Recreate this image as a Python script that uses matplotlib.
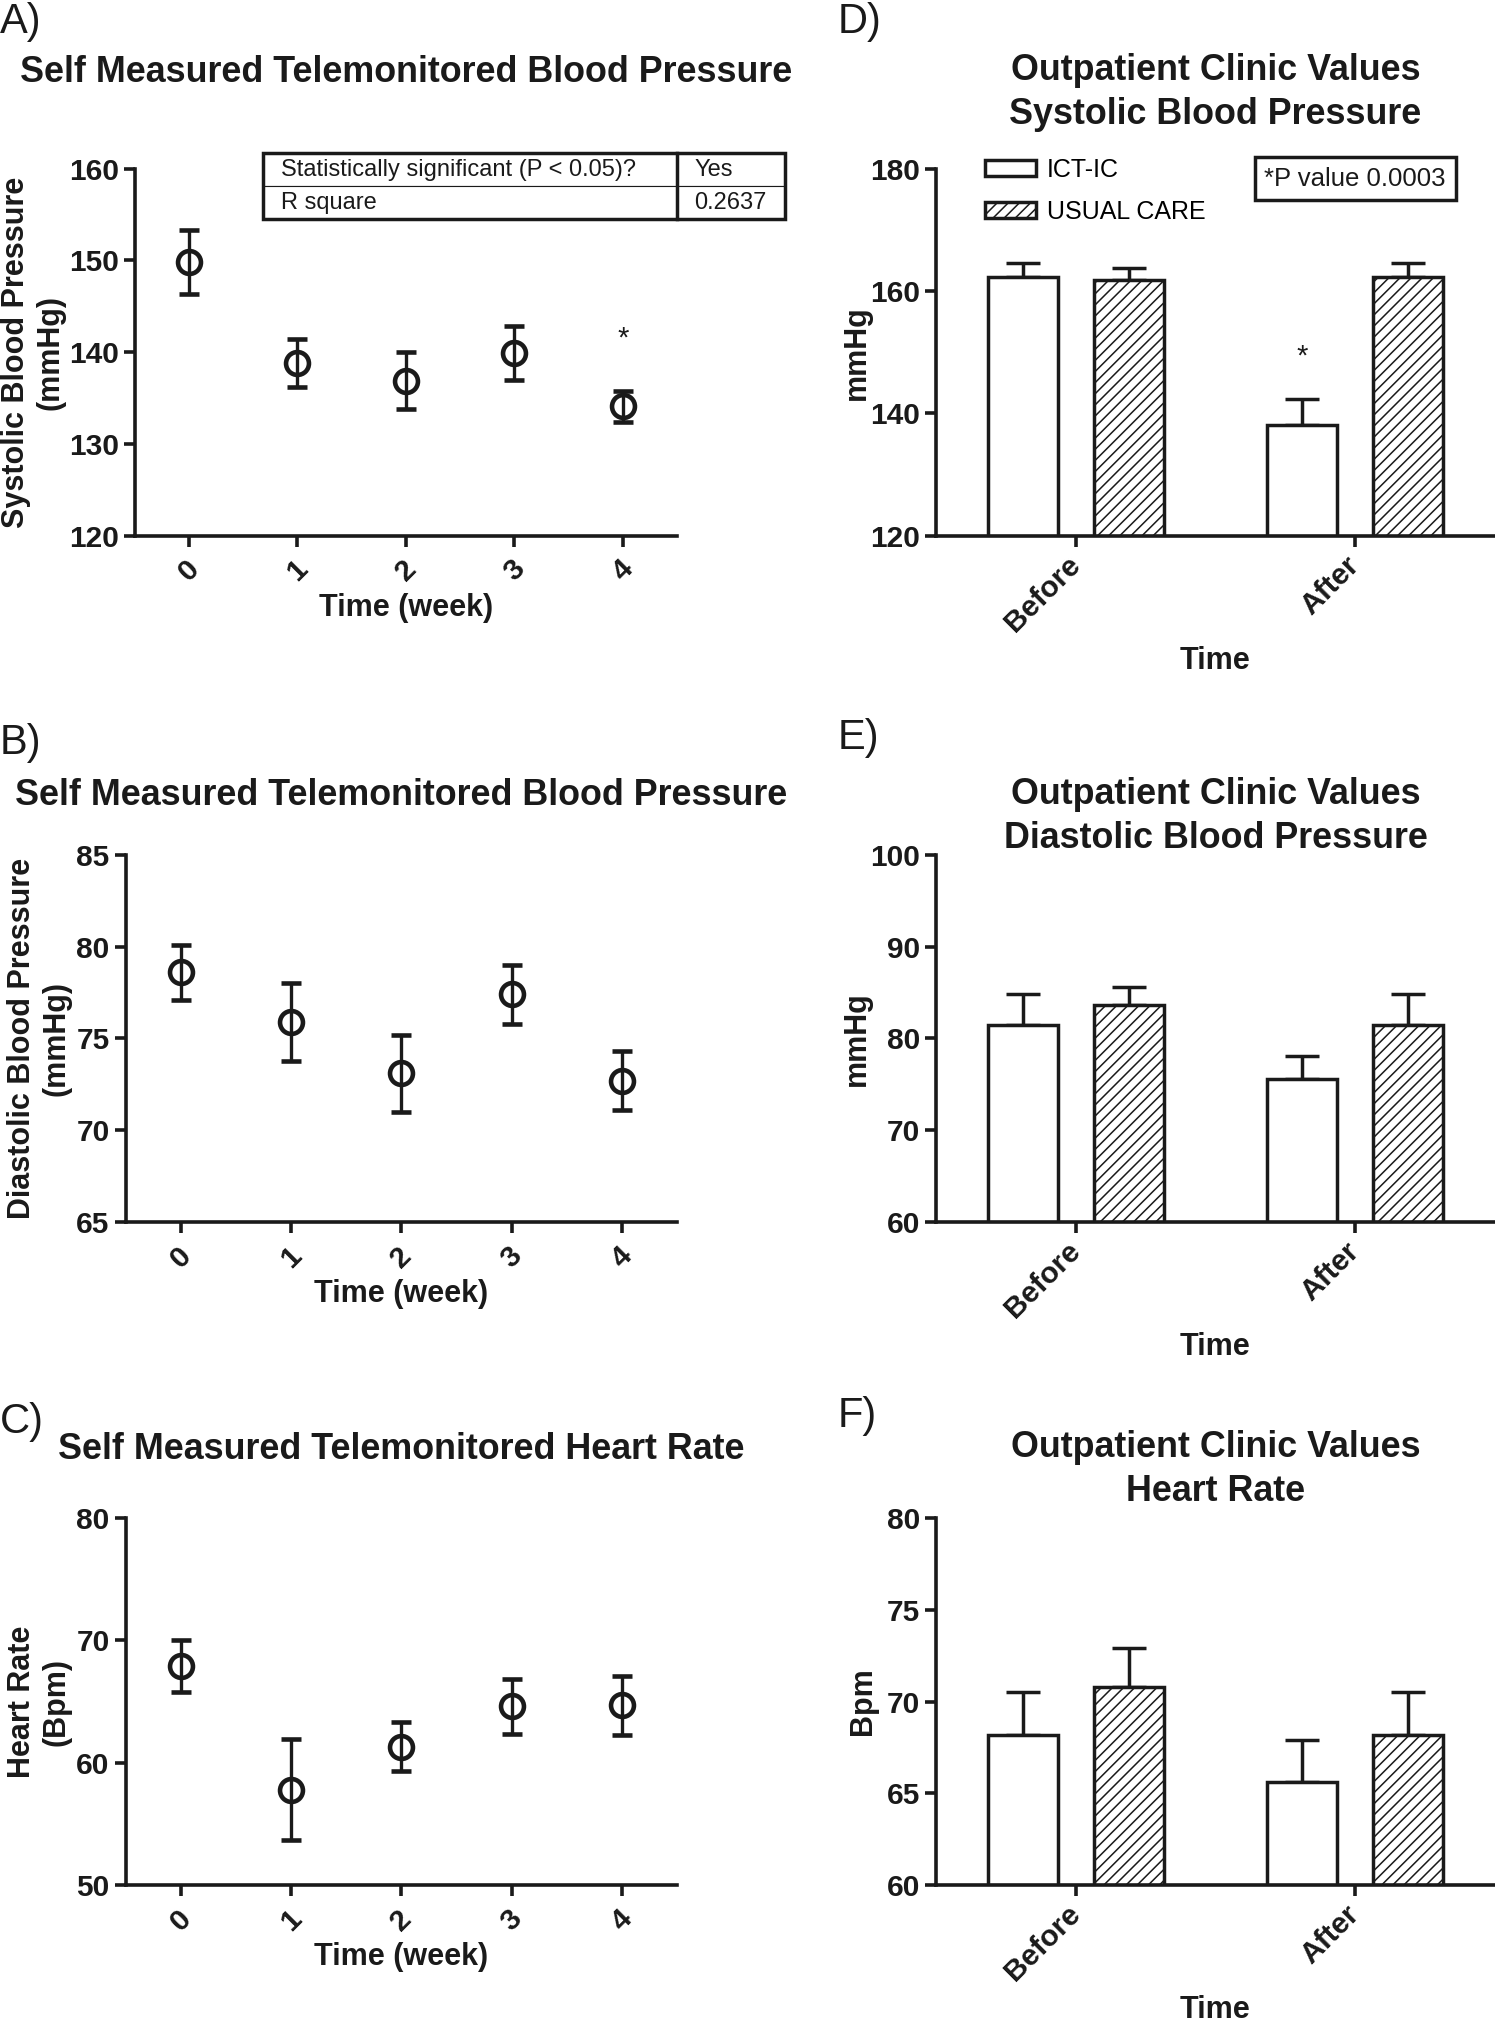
import matplotlib.pyplot as plt
from matplotlib.patches import Rectangle
import numpy as np

plt.rcParams["font.family"] = ["Liberation Sans", "DejaVu Sans"]
plt.rcParams["hatch.linewidth"] = 1.1

INK = "#1a1a1a"
LW = 2.6
TICK_FS = 21.5
LABEL_FS = 22
TITLE_FS = 25.8

# self measured data (mean, error) per week
weeks = [0, 1, 2, 3, 4]
week_labels = ["0", "1", "2", "3", "4"]
sys_mean = [149.8, 138.8, 136.9, 139.9, 134.1]
sys_err = [3.5, 2.65, 3.1, 2.95, 1.7]
dia_mean = [78.6, 75.9, 73.1, 77.4, 72.7]
dia_err = [1.5, 2.15, 2.1, 1.6, 1.6]
hr_mean = [67.9, 57.8, 61.3, 64.6, 64.7]
hr_err = [2.1, 4.15, 2.0, 2.25, 2.4]

# outpatient clinic values
times = ["Before", "After"]
clinic_sys_ict = [162.3, 138.1]
clinic_sys_ict_err = [2.2, 4.3]
clinic_sys_uc = [161.8, 162.3]
clinic_sys_uc_err = [1.9, 2.2]
clinic_dia_ict = [81.5, 75.6]
clinic_dia_ict_err = [3.3, 2.5]
clinic_dia_uc = [83.7, 81.5]
clinic_dia_uc_err = [1.9, 3.3]
clinic_hr_ict = [68.2, 65.6]
clinic_hr_ict_err = [2.3, 2.3]
clinic_hr_uc = [70.8, 68.2]
clinic_hr_uc_err = [2.1, 2.3]

table_rows = [["Statistically significant (P < 0.05)?", "Yes"],
              ["R square", "0.2637"]]

fig = plt.figure(figsize=(14.95, 20.19), dpi=100)

W, H = 1166.0, 1568.0


def place(left, right, top, bottom):
    return fig.add_axes([left / W, 1 - bottom / H, (right - left) / W, (bottom - top) / H])


def style_axes(ax, ylim, yticks, xticks, xticklabels, xlim, centered):
    ax.set_xlim(xlim)
    ax.set_ylim(ylim)
    ax.set_yticks(yticks)
    ax.set_yticklabels([str(t) for t in yticks], fontweight="bold", fontsize=TICK_FS)
    ax.set_xticks(xticks)
    if centered:
        # single digits sit centred below their tick
        ax.set_xticklabels(xticklabels, rotation=45, ha="center", va="top",
                           fontweight="bold", fontsize=TICK_FS)
    else:
        ax.set_xticklabels(xticklabels, rotation=45, ha="right", va="center",
                           rotation_mode="anchor", fontweight="bold", fontsize=TICK_FS)
    for side in ["top", "right"]:
        ax.spines[side].set_visible(False)
    for side in ["left", "bottom"]:
        ax.spines[side].set_linewidth(LW)
        ax.spines[side].set_color(INK)
    ax.tick_params(width=LW, length=8, color=INK, labelcolor=INK)
    ax.tick_params(axis="x", pad=10 if not centered else 6)


def scatter_panel(ax, mean, err, ylim, yticks, ylabel, title, title_y):
    ax.errorbar(weeks, mean, yerr=err, fmt="o", ms=16.5, mfc="none", mec=INK, mew=3.3,
                ecolor=INK, elinewidth=2.4, capsize=7.5, capthick=2.4, clip_on=False)
    style_axes(ax, ylim, yticks, weeks, week_labels, (-0.5, 4.5), True)
    ax.set_ylabel(ylabel, fontweight="bold", fontsize=LABEL_FS, color=INK)
    ax.set_xlabel("Time (week)", fontweight="bold", fontsize=LABEL_FS, color=INK, va="top")
    ax.xaxis.set_label_coords(0.5, -0.155)
    ax.text(0.5, title_y, title, transform=ax.transAxes, ha="center", va="center",
            fontsize=TITLE_FS, fontweight="bold", color=INK)


def bar_panel(ax, ict, ict_err, uc, uc_err, ylim, yticks, ylabel, title, title_y):
    x = np.arange(len(times))
    off, width = 0.19, 0.25
    ax.errorbar(x - off, ict, yerr=[np.zeros(len(ict)), ict_err], fmt="none", ecolor=INK,
                elinewidth=2.5, capsize=12, capthick=2.5, zorder=1)
    ax.errorbar(x + off, uc, yerr=[np.zeros(len(uc)), uc_err], fmt="none", ecolor=INK,
                elinewidth=2.5, capsize=12, capthick=2.5, zorder=1)
    ax.bar(x - off, ict, width=width, color="white", edgecolor=INK, linewidth=2.5,
           label="ICT-IC", zorder=2)
    ax.bar(x + off, uc, width=width, color="white", edgecolor=INK, linewidth=2.5,
           hatch="///", label="USUAL CARE", zorder=2)
    style_axes(ax, ylim, yticks, x, times, (-0.5, 1.5), False)
    ax.set_ylabel(ylabel, fontweight="bold", fontsize=LABEL_FS, color=INK)
    ax.set_xlabel("Time", fontweight="bold", fontsize=LABEL_FS, color=INK, va="top")
    ax.xaxis.set_label_coords(0.5, -0.3)
    ax.text(0.5, title_y, title, transform=ax.transAxes, ha="center", va="center",
            fontsize=TITLE_FS, fontweight="bold", color=INK, linespacing=1.32)
    return x, off


# A) systolic self measured
axA = place(105, 528, 131, 416)
scatter_panel(axA, sys_mean, sys_err, (120, 160), [120, 130, 140, 150, 160],
              "Systolic Blood Pressure\n(mmHg)", "Self Measured Telemonitored Blood Pressure", 1.263)
axA.yaxis.set_label_coords(-0.128, 0.5)
axA.text(4, 141.5, "*", ha="center", va="center", fontsize=21, color=INK)

tbl = axA.table(cellText=table_rows, cellLoc="left", colWidths=[0.764, 0.199],
                bbox=[0.236, 0.863, 0.963, 0.179])
tbl.auto_set_font_size(False)
tbl.set_fontsize(17)
for (r, c), cell in tbl.get_celld().items():
    cell.set_linewidth(0.8)
    cell.set_edgecolor(INK)
    cell.PAD = 0.045 if c == 0 else 0.16
    cell.get_text().set_color(INK)
axA.add_patch(Rectangle((0.236, 0.863), 0.963, 0.179, transform=axA.transAxes,
                        fill=False, lw=2.5, ec=INK, clip_on=False, zorder=5))
axA.plot([1.0, 1.0], [0.863, 1.042], transform=axA.transAxes, color=INK, lw=2.5,
         clip_on=False, zorder=5)

# B) diastolic self measured
axB = place(98, 528, 664, 949)
scatter_panel(axB, dia_mean, dia_err, (65, 85), [65, 70, 75, 80, 85],
              "Diastolic Blood Pressure\n(mmHg)", "Self Measured Telemonitored Blood Pressure", 1.161)
axB.yaxis.set_label_coords(-0.098, 0.5)

# C) heart rate self measured
axC = place(98, 528, 1179, 1464)
scatter_panel(axC, hr_mean, hr_err, (50, 80), [50, 60, 70, 80],
              "Heart Rate\n(Bpm)", "Self Measured Telemonitored Heart Rate", 1.186)
axC.yaxis.set_label_coords(-0.098, 0.5)

# D) clinic systolic
axD = place(730, 1166, 131, 416)
xD, offD = bar_panel(axD, clinic_sys_ict, clinic_sys_ict_err, clinic_sys_uc, clinic_sys_uc_err,
                     (120, 180), [120, 140, 160, 180], "mmHg",
                     "Outpatient Clinic Values\nSystolic Blood Pressure", 1.207)
axD.yaxis.set_label_coords(-0.115, 0.5)
axD.text(xD[1] - offD, 149.3, "*", ha="center", va="center", fontsize=21, color=INK)
axD.legend(loc="upper left", bbox_to_anchor=(0.087, 1.03), frameon=False, fontsize=18,
           handlelength=2.05, handleheight=0.6, handletextpad=0.45, labelspacing=0.72,
           borderpad=0, borderaxespad=0)
axD.text(0.75, 0.973, "*P value 0.0003", transform=axD.transAxes, ha="center", va="center",
         fontsize=18.5, color=INK,
         bbox=dict(boxstyle="square,pad=0.38", fc="white", ec=INK, lw=2.5))

# E) clinic diastolic
axE = place(730, 1166, 664, 949)
bar_panel(axE, clinic_dia_ict, clinic_dia_ict_err, clinic_dia_uc, clinic_dia_uc_err,
          (60, 100), [60, 70, 80, 90, 100], "mmHg",
          "Outpatient Clinic Values\nDiastolic Blood Pressure", 1.104)
axE.yaxis.set_label_coords(-0.115, 0.5)

# F) clinic heart rate
axF = place(730, 1166, 1179, 1464)
bar_panel(axF, clinic_hr_ict, clinic_hr_ict_err, clinic_hr_uc, clinic_hr_uc_err,
          (60, 80), [60, 65, 70, 75, 80], "Bpm",
          "Outpatient Clinic Values\nHeart Rate", 1.132)
axF.yaxis.set_label_coords(-0.103, 0.5)

# panel letters
for letter, x, y in [("A)", 0, 17), ("B)", 0, 577), ("C)", 0, 1104),
                     ("D)", 653, 17), ("E)", 653, 573), ("F)", 653, 1100)]:
    fig.text(x / W, 1 - y / H, letter, ha="left", va="center", fontsize=30, color=INK)

fig.savefig("out.png", dpi=100, facecolor="white")
